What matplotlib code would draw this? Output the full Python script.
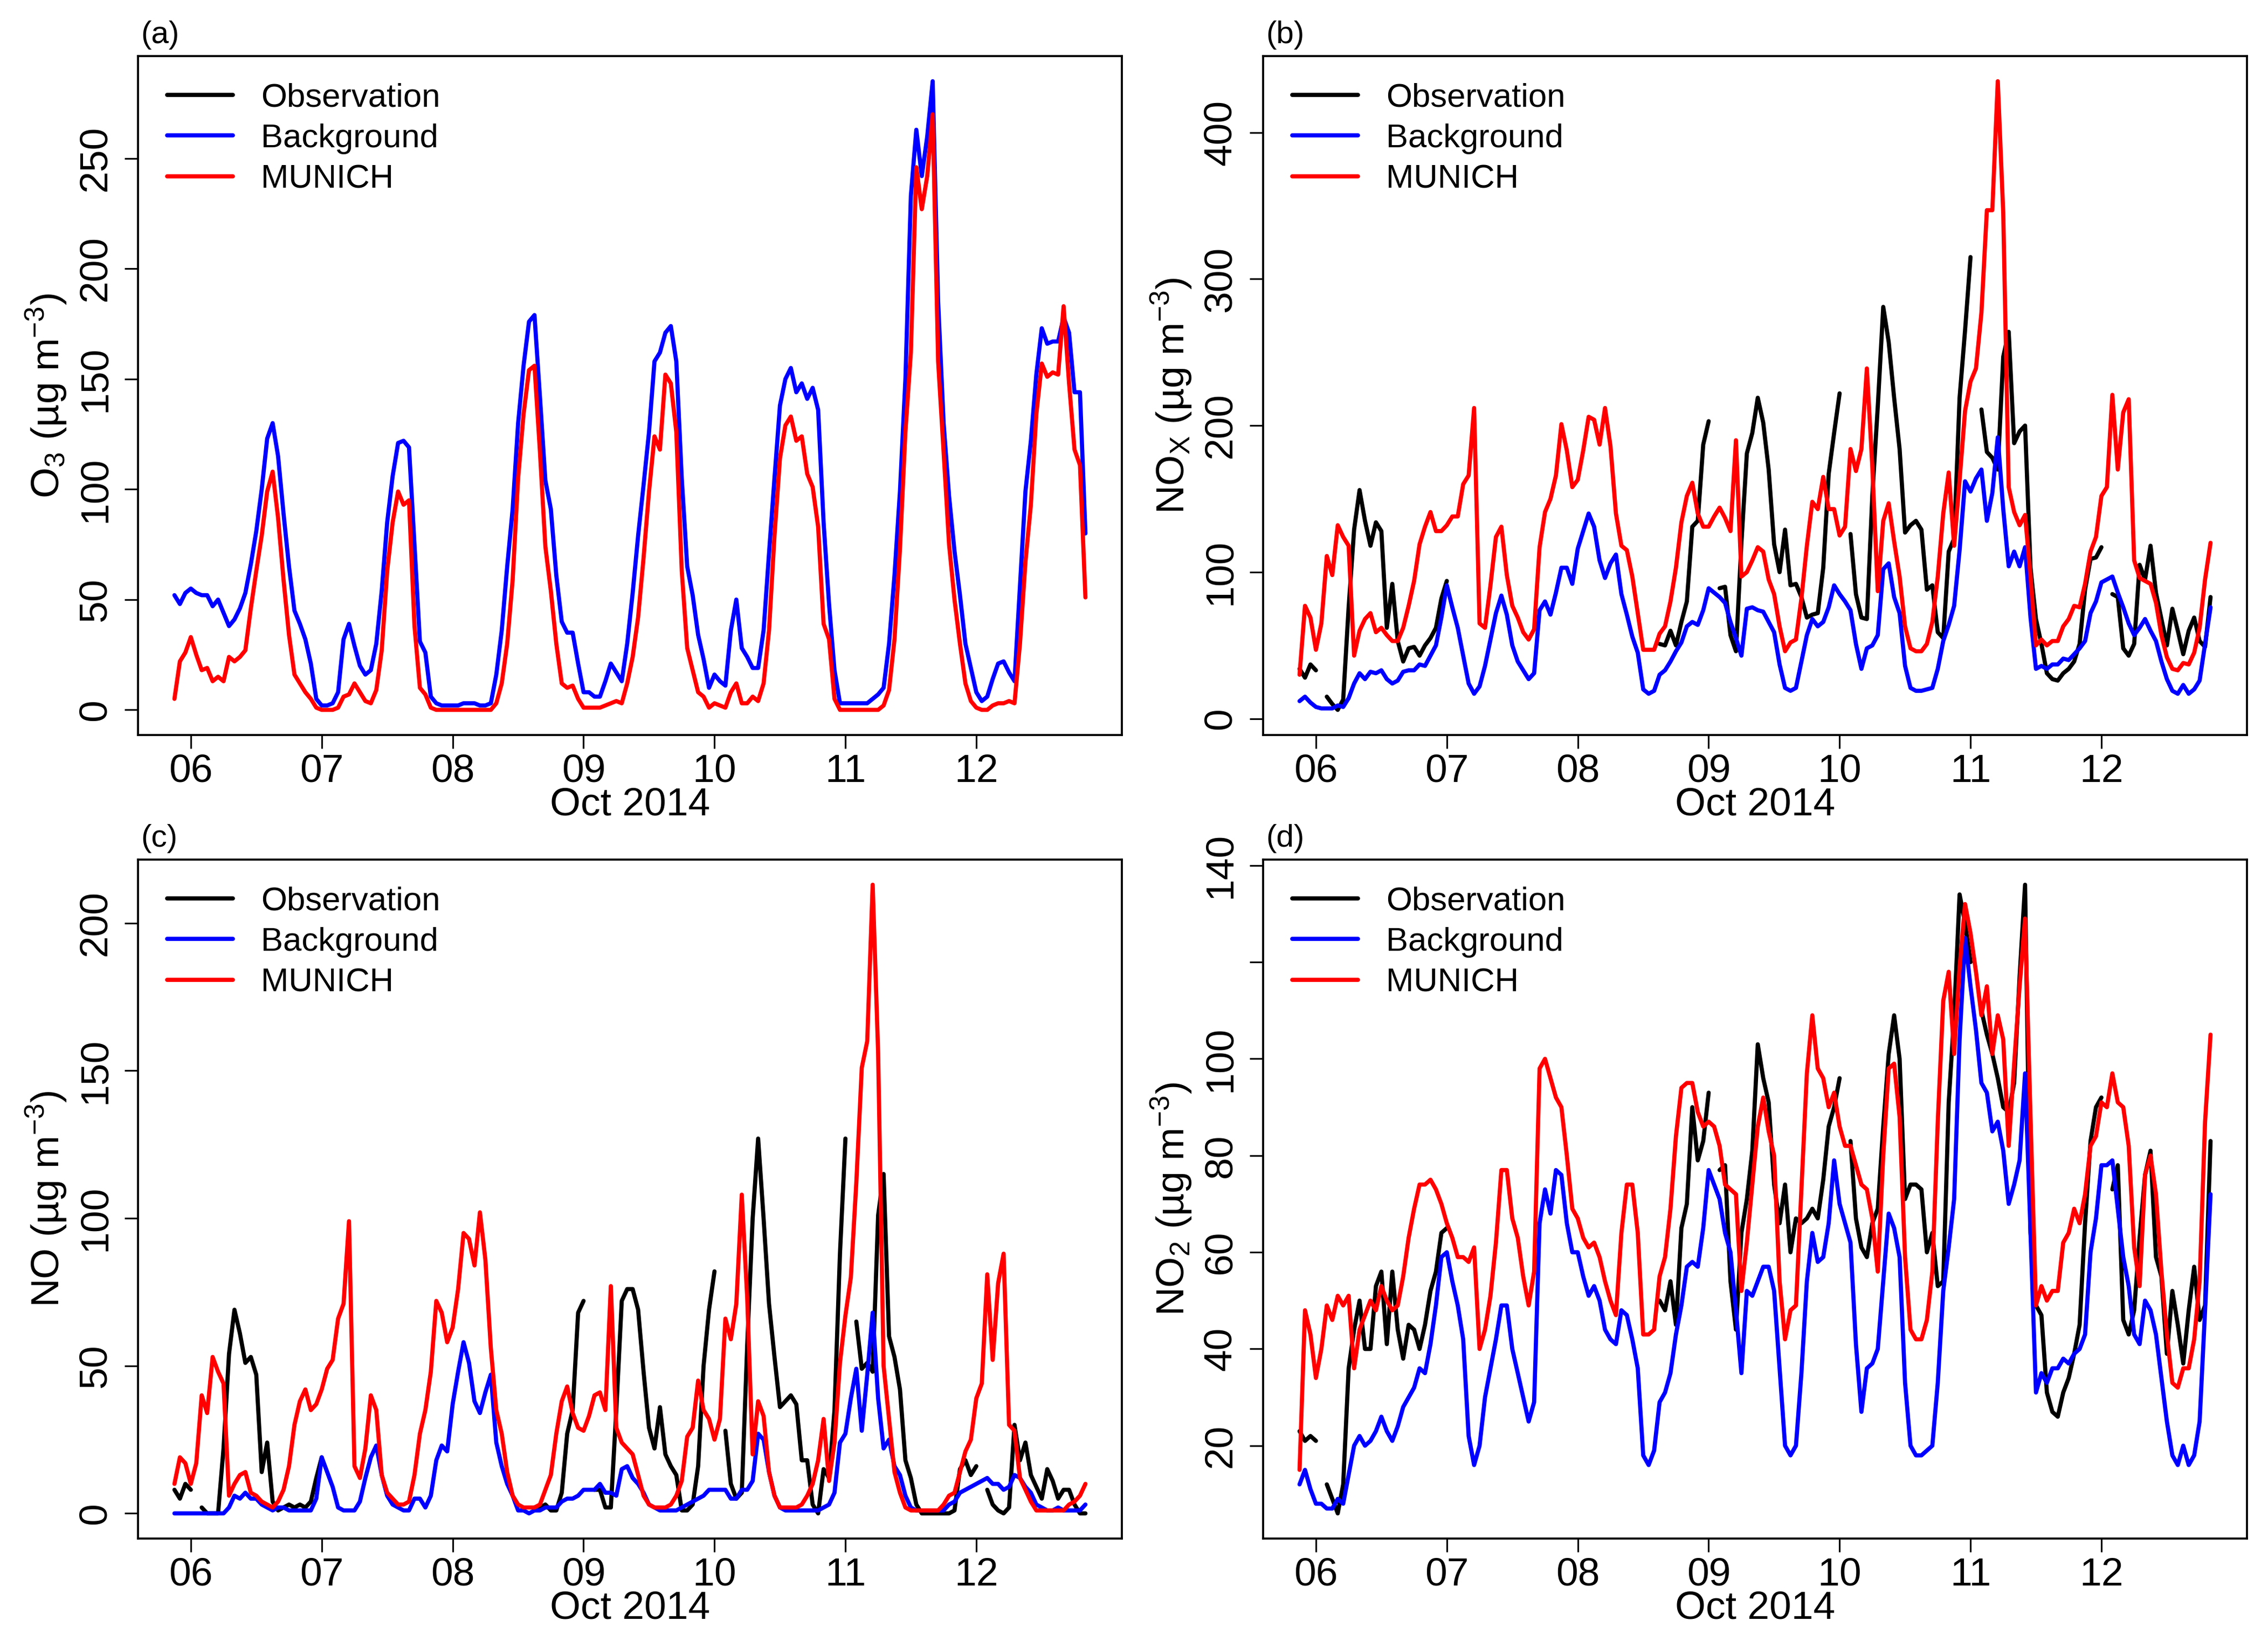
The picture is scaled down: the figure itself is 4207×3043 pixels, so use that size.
import numpy as np
import pandas as pd
import matplotlib
matplotlib.use("Agg")
import matplotlib.pyplot as plt
import matplotlib.dates as mdates
from matplotlib.lines import Line2D

nan = float("nan")

# hourly values, 2014-10-05 21:00 ... 2014-10-12 20:00 (one row = 24 h)
times = pd.date_range("2014-10-05 21:00", periods=168, freq="h")

# --- O3 (no observation at the site) ---
o3_obs = None
o3_bg = [
    52, 48, 53, 55, 53, 52, 52, 47, 50, 44, 38, 41, 46, 53, 66, 81, 100, 123, 130, 115, 89, 65, 45, 39,
    32, 21, 5, 2, 2, 3, 8, 32, 39, 29, 20, 16, 18, 30, 54, 85, 106, 121, 122, 119, 75, 31, 26, 6,
    3, 2, 2, 2, 2, 3, 3, 3, 2, 2, 3, 16, 36, 65, 91, 130, 156, 176, 179, 142, 104, 91, 61, 40,
    35, 35, 21, 8, 8, 6, 6, 13, 21, 17, 13, 30, 53, 79, 102, 126, 158, 162, 171, 174, 158, 105, 65, 52,
    34, 23, 10, 16, 13, 11, 36, 50, 28, 24, 19, 19, 36, 71, 105, 138, 150, 155, 144, 148, 141, 146, 136, 85,
    48, 18, 3, 3, 3, 3, 3, 3, 5, 7, 10, 30, 61, 99, 150, 233, 263, 242, 260, 285, 185, 130, 97, 72,
    52, 30, 19, 8, 4, 6, 14, 21, 22, 17, 13, 56, 99, 122, 152, 173, 166, 167, 167, 178, 171, 144, 144, 80,
]
o3_munich = [
    5, 22, 26, 33, 25, 18, 19, 13, 15, 13, 24, 22, 24, 27, 46, 63, 79, 99, 108, 87, 59, 34, 16, 12,
    8, 5, 1, 0, 0, 0, 1, 6, 7, 12, 8, 4, 3, 9, 27, 63, 85, 99, 93, 95, 38, 10, 7, 1,
    0, 0, 0, 0, 0, 0, 0, 0, 0, 0, 0, 3, 12, 30, 59, 105, 134, 154, 156, 117, 74, 54, 30, 12,
    10, 11, 5, 1, 1, 1, 1, 2, 3, 4, 3, 12, 24, 42, 69, 99, 124, 118, 152, 148, 126, 63, 28, 18,
    8, 6, 1, 3, 2, 1, 8, 12, 3, 3, 6, 4, 12, 36, 79, 114, 129, 133, 122, 124, 107, 101, 83, 39,
    32, 5, 0, 0, 0, 0, 0, 0, 0, 0, 2, 9, 32, 73, 126, 162, 246, 227, 242, 270, 158, 117, 75, 50,
    30, 12, 4, 1, 0, 0, 2, 3, 3, 4, 3, 30, 67, 93, 134, 157, 151, 153, 152, 183, 148, 118, 111, 51,
]

# --- NOx ---
nox_obs = [
    34, 28, 37, 33, nan, 15, 10, 6, 13, 76, 129, 156, 135, 118, 134, 128, 62, 92, 53, 39, 48, 49, 43, 50,
    55, 62, 82, 94, nan, nan, nan, nan, nan, nan, nan, nan, nan, nan, nan, nan, nan, nan, nan, nan, nan, nan, nan, nan,
    nan, nan, nan, nan, nan, nan, nan, nan, nan, nan, nan, nan, nan, nan, nan, nan, nan, nan, 51, 50, 60, 50, 66, 80,
    131, 135, 187, 203, nan, 89, 90, 57, 46, 120, 181, 195, 219, 202, 170, 119, 100, 129, 91, 92, 83, 69, 71, 72,
    103, 167, 195, 222, nan, 126, 85, 69, 68, 152, 213, 281, 257, 219, 184, 127, 132, 135, 129, 88, 91, 59, 55, 114,
    123, 219, 265, 315, nan, 211, 182, 178, 170, 247, 264, 188, 196, 200, 103, 68, 51, 31, 27, 26, 31, 34, 39, 51,
    88, 109, 110, 117, nan, 85, 83, 48, 43, 51, 105, 95, 118, 86, 68, 50, 75, 60, 44, 60, 69, 53, 49, 83,
]
nox_bg = [
    12, 15, 11, 8, 7, 7, 7, 9, 8, 14, 24, 31, 27, 32, 31, 33, 27, 24, 26, 32, 33, 33, 37, 36,
    43, 50, 69, 91, 76, 62, 43, 24, 17, 22, 36, 54, 72, 84, 71, 50, 39, 33, 27, 31, 74, 80, 71, 86,
    103, 103, 92, 116, 128, 140, 131, 108, 96, 106, 112, 85, 71, 56, 45, 20, 17, 19, 30, 33, 39, 46, 52, 63,
    66, 64, 74, 89, 86, 83, 79, 66, 55, 43, 75, 76, 74, 73, 66, 59, 37, 21, 19, 21, 39, 57, 68, 63,
    66, 76, 91, 85, 80, 74, 51, 34, 48, 50, 57, 102, 106, 83, 72, 36, 21, 19, 19, 20, 21, 34, 53, 64,
    77, 115, 162, 155, 164, 170, 135, 154, 192, 143, 104, 114, 104, 117, 69, 34, 36, 34, 37, 37, 41, 40, 44, 48,
    53, 72, 80, 93, 95, 97, 86, 76, 65, 57, 62, 68, 60, 53, 39, 27, 19, 17, 23, 17, 20, 26, 51, 76,
]
nox_munich = [
    30, 77, 69, 47, 65, 111, 98, 132, 124, 118, 43, 60, 68, 72, 59, 62, 57, 53, 53, 62, 77, 94, 119, 131,
    141, 128, 128, 132, 138, 138, 160, 166, 212, 65, 62, 91, 124, 131, 98, 77, 69, 59, 54, 61, 117, 141, 150, 166,
    201, 183, 158, 163, 183, 206, 204, 187, 212, 186, 140, 118, 115, 97, 72, 47, 47, 47, 58, 63, 80, 103, 134, 152,
    161, 140, 131, 131, 138, 144, 137, 128, 190, 97, 100, 108, 117, 114, 95, 85, 63, 46, 52, 54, 82, 118, 148, 143,
    165, 143, 143, 125, 131, 184, 169, 184, 239, 172, 87, 135, 147, 121, 97, 63, 48, 46, 46, 51, 66, 97, 140, 168,
    118, 163, 210, 230, 239, 277, 347, 347, 435, 345, 158, 141, 132, 139, 97, 50, 54, 50, 53, 53, 63, 68, 77, 76,
    92, 114, 124, 152, 158, 221, 170, 209, 218, 108, 96, 94, 92, 79, 57, 42, 34, 33, 38, 37, 45, 62, 95, 120,
]

# --- NO ---
no_obs = [
    8, 5, 10, 8, nan, 2, 0, 0, 0, 22, 54, 69, 61, 51, 53, 47, 14, 24, 4, 1, 2, 3, 2, 3,
    2, 4, 12, 19, nan, nan, nan, nan, nan, nan, nan, nan, nan, nan, nan, nan, nan, nan, nan, nan, nan, nan, nan, nan,
    nan, nan, nan, nan, nan, nan, nan, nan, nan, nan, nan, nan, nan, nan, nan, nan, nan, nan, 2, 2, 3, 1, 1, 7,
    27, 35, 68, 72, nan, 8, 8, 2, 2, 35, 72, 76, 76, 69, 48, 29, 22, 36, 20, 16, 13, 1, 1, 3,
    16, 50, 69, 82, nan, 28, 10, 5, 7, 57, 100, 127, 100, 71, 53, 36, 38, 40, 37, 18, 18, 3, 0, 15,
    12, 35, 88, 127, nan, 65, 49, 51, 48, 101, 115, 60, 53, 42, 18, 12, 3, 0, 0, 0, 0, 0, 0, 1,
    15, 18, 13, 16, nan, 8, 3, 1, 0, 2, 30, 18, 24, 13, 9, 5, 15, 11, 5, 8, 8, 3, 0, 0,
]
no_bg = [
    0, 0, 0, 0, 0, 0, 0, 0, 0, 0, 2, 6, 5, 7, 5, 5, 3, 2, 1, 2, 2, 1, 1, 1,
    1, 1, 5, 19, 14, 9, 2, 1, 1, 1, 4, 12, 19, 23, 13, 6, 3, 2, 1, 1, 5, 5, 2, 6,
    18, 23, 21, 37, 48, 58, 51, 38, 34, 41, 47, 24, 16, 10, 6, 1, 1, 0, 1, 1, 2, 2, 2, 4,
    5, 5, 6, 8, 8, 8, 10, 7, 7, 6, 15, 16, 12, 10, 7, 3, 2, 1, 1, 1, 1, 2, 3, 4,
    5, 6, 8, 8, 8, 8, 5, 5, 8, 8, 11, 27, 25, 14, 6, 2, 1, 1, 1, 1, 1, 1, 1, 2,
    3, 7, 24, 27, 39, 49, 28, 47, 68, 39, 22, 25, 16, 13, 6, 2, 1, 1, 1, 1, 1, 1, 3, 4,
    7, 8, 9, 10, 11, 12, 10, 10, 8, 9, 13, 12, 9, 7, 3, 2, 1, 1, 2, 1, 1, 1, 1, 3,
]
no_munich = [
    10, 19, 17, 10, 17, 40, 34, 53, 48, 44, 6, 10, 13, 14, 7, 6, 4, 3, 2, 4, 8, 16, 30, 38,
    42, 35, 37, 42, 49, 52, 66, 71, 99, 16, 12, 22, 40, 35, 13, 7, 5, 3, 3, 4, 13, 27, 35, 48,
    72, 68, 58, 63, 76, 95, 93, 84, 102, 86, 56, 35, 27, 14, 6, 3, 2, 2, 2, 3, 8, 13, 27, 38,
    43, 34, 29, 28, 33, 40, 41, 35, 77, 29, 24, 22, 20, 13, 6, 3, 2, 2, 2, 3, 6, 11, 26, 29,
    45, 35, 32, 25, 32, 66, 59, 71, 108, 73, 20, 38, 33, 14, 6, 2, 2, 2, 2, 3, 6, 10, 18, 32,
    11, 24, 51, 67, 80, 112, 151, 160, 213, 156, 50, 32, 14, 7, 2, 1, 1, 1, 1, 1, 1, 3, 6, 7,
    14, 21, 25, 39, 44, 81, 52, 78, 88, 30, 28, 12, 8, 4, 1, 1, 1, 1, 1, 1, 3, 4, 6, 10,
]

# --- NO2 ---
no2_obs = [
    23, 21, 22, 21, nan, 12, 9, 6, 12, 36, 44, 50, 40, 40, 53, 56, 41, 56, 44, 38, 45, 44, 40, 45,
    52, 56, 64, 65, nan, nan, nan, nan, nan, nan, nan, nan, nan, nan, nan, nan, nan, nan, nan, nan, nan, nan, nan, nan,
    nan, nan, nan, nan, nan, nan, nan, nan, nan, nan, nan, nan, nan, nan, nan, nan, nan, nan, 50, 48, 54, 45, 65, 70,
    90, 79, 83, 93, nan, 77, 78, 54, 44, 64, 71, 81, 103, 96, 91, 74, 66, 74, 60, 67, 66, 67, 69, 67,
    75, 86, 90, 96, nan, 83, 67, 61, 59, 66, 69, 86, 101, 109, 100, 71, 74, 74, 73, 60, 64, 53, 54, 91,
    109, 134, 128, 120, nan, 110, 105, 101, 96, 90, 89, 95, 117, 136, 64, 49, 47, 31, 27, 26, 31, 34, 39, 45,
    66, 83, 90, 92, nan, 73, 78, 46, 43, 48, 63, 76, 81, 59, 55, 39, 52, 45, 37, 48, 57, 46, 49, 83,
]
no2_bg = [
    12, 15, 11, 8, 8, 7, 7, 9, 8, 14, 20, 22, 20, 21, 23, 26, 23, 21, 24, 28, 30, 32, 36, 35,
    41, 49, 59, 60, 54, 49, 42, 22, 16, 20, 30, 36, 42, 49, 49, 40, 35, 30, 25, 29, 66, 73, 68, 77,
    76, 66, 60, 60, 55, 51, 53, 50, 44, 42, 41, 48, 47, 42, 36, 18, 16, 19, 29, 31, 35, 43, 49, 57,
    58, 57, 65, 77, 74, 71, 64, 60, 48, 35, 52, 51, 54, 57, 57, 52, 36, 20, 18, 20, 35, 54, 64, 58,
    59, 66, 79, 70, 66, 62, 41, 27, 36, 37, 40, 54, 68, 65, 59, 33, 20, 18, 18, 19, 20, 33, 52, 61,
    71, 104, 125, 115, 106, 95, 93, 85, 87, 81, 70, 74, 79, 97, 64, 31, 35, 33, 36, 36, 38, 37, 39, 40,
    43, 60, 67, 78, 78, 79, 69, 59, 53, 43, 41, 50, 48, 43, 34, 25, 18, 16, 20, 16, 18, 25, 48, 72,
]
no2_munich = [
    15, 48, 43, 34, 40, 49, 46, 51, 49, 51, 36, 44, 47, 50, 48, 53, 50, 48, 49, 55, 63, 69, 74, 74,
    75, 73, 70, 66, 63, 59, 59, 58, 61, 40, 44, 51, 62, 77, 77, 67, 63, 55, 49, 56, 98, 100, 96, 92,
    90, 80, 69, 67, 63, 61, 62, 59, 54, 50, 47, 64, 74, 74, 64, 43, 43, 44, 55, 59, 69, 84, 94, 95,
    95, 89, 86, 87, 86, 82, 74, 73, 72, 52, 62, 74, 86, 92, 85, 80, 54, 42, 48, 49, 73, 97, 109, 98,
    96, 90, 93, 86, 82, 82, 78, 74, 73, 67, 56, 80, 98, 99, 88, 59, 44, 42, 42, 46, 56, 87, 112, 118,
    101, 119, 132, 126, 118, 109, 115, 101, 109, 104, 82, 99, 115, 129, 88, 49, 53, 50, 52, 52, 62, 64, 69, 66,
    72, 82, 84, 91, 90, 97, 91, 90, 82, 61, 53, 76, 80, 72, 56, 43, 33, 32, 36, 36, 42, 54, 87, 105,
]

series_names = ["Observation", "Background", "MUNICH"]
series_colors = ["black", "blue", "red"]

o3_ticks = [0, 50, 100, 150, 200, 250]
nox_ticks = [0, 100, 200, 300, 400]
no_ticks = [0, 50, 100, 150, 200]
no2_ticks = [20, 40, 60, 80, 100, 120, 140]
no2_ticklabels = ["20", "40", "60", "80", "100", "", "140"]  # R drops the overlapping 120
day_ticks = pd.date_range("2014-10-06", "2014-10-12", freq="D")

# --- style ---
plt.rcParams["font.family"] = ["Liberation Sans", "DejaVu Sans"]
plt.rcParams["mathtext.fontset"] = "custom"
plt.rcParams["mathtext.rm"] = "Liberation Sans"
plt.rcParams["mathtext.it"] = "Liberation Sans:italic"
plt.rcParams["mathtext.bf"] = "Liberation Sans:bold"

TICK_FS = 17.6
LEG_FS = 14.8
TAG_FS = 14
LW = 1.85

W, H = 4207, 3043
fig = plt.figure(figsize=(W / 300, H / 300), dpi=300)

left_col = [256 / W, 2343 / W]
bottom_row = [1 - 1363 / H, 1 - 2853 / H]
aw, ah = 1825 / W, 1259 / H

panels = [
    ("(a)", r"O$_3$ (µg m$^{-3}$)", o3_obs, o3_bg, o3_munich, o3_ticks, None, (0, 0)),
    ("(b)", r"NO$_\mathrm{X}$ (µg m$^{-3}$)", nox_obs, nox_bg, nox_munich, nox_ticks, None, (1, 0)),
    ("(c)", r"NO (µg m$^{-3}$)", no_obs, no_bg, no_munich, no_ticks, None, (0, 1)),
    ("(d)", r"NO$_2$ (µg m$^{-3}$)", no2_obs, no2_bg, no2_munich, no2_ticks, no2_ticklabels, (1, 1)),
]

t0 = mdates.date2num(times[0])
t1 = mdates.date2num(times[-1])
span = t1 - t0
line_kw = dict(lw=LW, solid_joinstyle="round", solid_capstyle="round")

for tag, ylab, obs, bg, mun, yt, ytl, (c, r) in panels:
    ax = fig.add_axes([left_col[c], bottom_row[r], aw, ah])

    allvals = [np.asarray(bg, float), np.asarray(mun, float)]
    if obs is not None:
        ax.plot(times, obs, color="black", **line_kw)
        allvals.append(np.asarray(obs, float))
    ax.plot(times, bg, color="blue", **line_kw)
    ax.plot(times, mun, color="red", **line_kw)

    # R-style 4% padding
    allvals = np.concatenate(allvals)
    lo, hi = np.nanmin(allvals), np.nanmax(allvals)
    pad = 0.04 * (hi - lo)
    ax.set_ylim(lo - pad, hi + pad)
    ax.set_xlim(t0 - 0.04 * span, t1 + 0.04 * span)

    ax.set_xticks(day_ticks)
    ax.xaxis.set_major_formatter(mdates.DateFormatter("%d"))
    if ytl is None:
        ytl = [str(v) for v in yt]
    ax.set_yticks(yt, ytl, rotation=90, va="center")

    ax.tick_params(axis="both", direction="out", length=6, width=0.75, labelsize=TICK_FS)
    ax.tick_params(axis="x", pad=2.4)
    ax.tick_params(axis="y", pad=4.8)
    for s in ax.spines.values():
        s.set_linewidth(0.9)

    ax.set_xlabel("Oct 2014", fontsize=TICK_FS, labelpad=-1.2)
    ax.set_ylabel(ylab, fontsize=TICK_FS)
    ax.yaxis.set_label_coords(-0.0707, 0.5)

    ax.text(0.003, 1.019, tag, transform=ax.transAxes, fontsize=TAG_FS,
            ha="left", va="baseline")

    handles = [Line2D([], [], color=col, lw=LW, solid_capstyle="round") for col in series_colors]
    ax.legend(handles, series_names, loc="upper left", bbox_to_anchor=(0.0296, 0.961),
              frameon=False, fontsize=LEG_FS, borderpad=0, borderaxespad=0,
              handlelength=1.97, handletextpad=0.85, labelspacing=0.3)

fig.savefig("out.png", dpi=300)
